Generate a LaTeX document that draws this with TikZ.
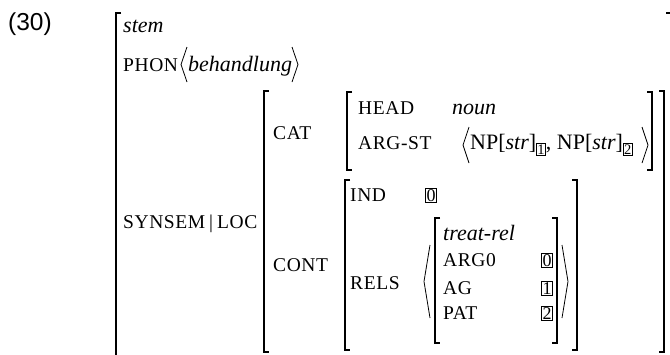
\documentclass[tikz,border=0pt]{standalone}
\usepackage{fontspec}
\setmainfont{Liberation Serif}
\newfontfamily\exnumfont{Liberation Sans}
\newfontfamily\featfont[LetterSpace=3]{Liberation Serif}
\usetikzlibrary{positioning}

% feature names in small capitals
\newcommand{\feat}[1]{{\featfont\fontsize{19.5}{20}\selectfont #1}}
% boxed tags
\newcommand{\tagnum}[1]{{\setlength{\fboxsep}{0.8pt}\setlength{\fboxrule}{0.6pt}\fbox{\fontsize{18}{18}\selectfont #1}}}
\newcommand{\subtag}[1]{\raisebox{-5pt}{\setlength{\fboxsep}{0.6pt}\setlength{\fboxrule}{0.6pt}\fbox{\fontsize{14.5}{14.5}\selectfont #1}}}

\begin{document}
\begin{tikzpicture}[x=1pt, y=-1pt,
  every node/.style={inner sep=0pt, anchor=base west, font=\fontsize{22}{26}\selectfont},
  avmbrack/.style={line width=1.5pt},
  anglebrack/.style={line width=0.8pt, line join=miter}]
\useasboundingbox (0,0) rectangle (670,354);
\clip (0,0) rectangle (670,354);

\node (exnum) at (8,30) {\exnumfont\fontsize{24.5}{26}\selectfont (30)};

% outer matrix
\node (stem) at (123,32) {\textit{stem}};
\node (phon) at (123,71) {\feat{PHON}};
\node (phonval) at (188,71) {\textit{behandlung}};
\node (synsem) at (123,228) {\feat{SYNSEM\hspace{4pt}|\hspace{4pt}LOC}};

% local value
\node (cat) at (273,139) {\feat{CAT}};
\node (cont) at (273,271) {\feat{CONT}};

% cat value
\node (head) at (358,114) {\feat{HEAD}};
\node (noun) at (452,114) {\textit{noun}};
\node (argst) at (358,149) {\feat{ARG-ST}};
\node (nplist) at (470,149) {NP[\textit{str}]\subtag{1}, NP[\textit{str}]\subtag{2}};

% cont value
\node (ind) at (350,201) {\feat{IND}};
\node (indval) at (425,201) {\tagnum{0}};
\node (rels) at (350,289) {\feat{RELS}};
\node (rel) at (443,240) {\textit{treat-rel}};
\node (arg0) at (443,266) {\feat{ARG0}};
\node (ag) at (443,294) {\feat{AG}};
\node (pat) at (443,319) {\feat{PAT}};
\node (arg0val) at (541,266) {\tagnum{0}};
\node (agval) at (541,294) {\tagnum{1}};
\node (patval) at (541,319) {\tagnum{2}};

\foreach \l/\r/\t/\b in {116/671/13/380, 264/664/91/352, 347/652/92/170, 345/577/180/350, 435/557/218/343} % edit here for the brackets
\draw[avmbrack] (\l+5,\t) -- (\l,\t) -- (\l,\b) -- (\l+5,\b)
                (\r-5,\t) -- (\r,\t) -- (\r,\b) -- (\r-5,\b);

\foreach \l/\r/\t/\b in {181/298/47/82, 463/648/127/163, 424/568/245/318} % edit here for the lists
\draw[anglebrack] (\l+6,\t) -- (\l,\t/2+\b/2) -- (\l+6,\b)
                  (\r-6,\t) -- (\r,\t/2+\b/2) -- (\r-6,\b);
\end{tikzpicture}
\end{document}
